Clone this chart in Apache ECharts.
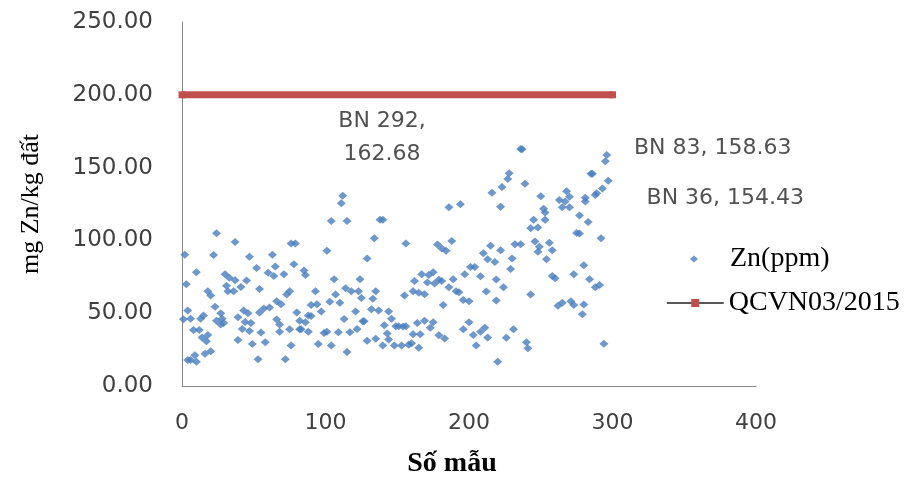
<!DOCTYPE html>
<html>
<head>
<meta charset="utf-8">
<script src="https://cdn.jsdelivr.net/npm/echarts/dist/echarts.min.js"></script>
<style>
  html, body {margin:0; padding:0; background:#fff;}
  #chart {width:907px; height:483px;}
</style>
</head>
<body>
<div id="chart"></div>
<script>
// số mẫu (sample no.) and Zn (mg/kg)
var sampleNo = [1,2,3,4,4,6,6,8,9,10,10,12,13,14,15,16,17,18,18,20,20,22,23,24,24,27,27,28,29,30,
  31,32,33,36,37,37,39,39,41,42,43,44,45,46,47,47,48,49,52,53,54,54,55,57,58,60,61,63,64,65,
  66,66,68,68,69,71,72,73,75,75,76,76,78,79,80,82,82,83,85,86,86,88,88,90,90,93,94,95,97,99,
  101,101,103,104,104,106,107,109,110,111,112,113,114,115,115,117,118,121,122,123,124,125,126,127,
  129,129,132,133,134,135,135,137,138,140,140,141,143,144,144,146,148,149,151,153,154,155,156,156,
  158,160,161,161,162,164,165,165,166,167,169,169,171,172,173,175,175,176,178,179,179,181,181,182,
  183,184,186,186,188,189,191,193,194,196,196,197,200,200,201,203,204,205,208,208,210,211,212,213,
  213,215,216,218,219,219,220,222,222,223,224,226,227,228,229,230,231,232,236,236,237,239,240,241,
  243,243,245,246,248,248,249,250,252,253,253,254,256,258,258,260,262,263,265,265,267,268,270,270,
  271,273,273,275,277,277,279,280,280,281,281,283,284,285,286,288,288,289,291,292,293,294,295,296,297];
var znPpm = [45.8,90.2,69.8,51.8,17.8,46.2,17.8,38.4,21.1,78.2,16.7,38.4,46.2,33.3,48.4,22.2,30.7,65.1,35.1,62.2,23.8,90,54.4,104.9,44.9,50,42.2,46.2,43.3,76.7,
  68.9,65.1,74.4,65.1,98.9,72.7,47.3,31.6,68,39.1,51.8,44,72.4,50,88.7,37.8,43.3,28.9,81.1,18.4,66.7,50.4,36.7,53.3,30,77.8,54,90.2,75.6,82,
  58.2,45.6,42.2,37.3,56.2,76.7,18.4,62.9,65.1,38.9,97.8,27.8,83.6,97.8,50.4,44.9,38.9,38.9,79.3,76.2,43.8,48.4,37.3,55.6,48,65.1,56.2,28.9,51.1,36.4,
  92.9,37.3,57.8,113.3,27.8,73.3,62.9,36.9,57.1,125.6,130.7,46,67.1,113.3,23.3,36.9,65.1,51.1,39.1,65.1,73.3,60.4,44.4,44.4,
  87.6,31.1,52.7,60,101.5,65.1,32.4,51.8,114.2,114.2,27.8,41.8,36,51.1,32,46.2,27.8,41.1,41,27.8,40.9,62.2,41,97.8,
  28.4,29.3,65.1,35.6,72.2,43.3,64,26.2,35.6,76.7,63.1,44.9,71.1,76.2,40,78.2,43.8,70.4,97.1,72.9,34.9,94.4,72.2,55.6,
  32.7,92.9,122.7,67.8,99.6,73.3,65.1,64.4,124.9,59.1,38.9,76.7,58.2,43.8,81.8,35.1,81.8,27.8,75.3,37.3,91.1,40,64.9,87.1,
  33.3,96.4,132.7,85.1,73.1,58.7,16.7,93.3,123.1,136.7,67.8,33.1,142.2,146.2,80.4,87.6,38.9,97.3,162.7,97.3,162.68,138.9,30,26,
  108.4,62.9,114.2,99.3,108.9,92.2,95.6,130.4,121.8,119.1,114.2,87.1,98.4,93.3,75.6,74,55.1,127.8,122.7,57.1,126.7,133.8,130,122.7,
  58.2,76.7,55.6,105.1,104.7,117.1,49.3,82.9,56,129.3,126.7,112.7,73.3,145.8,145.8,131.1,67.8,132.4,69.3,101.5,135.6,29,154.43,158.63,141];

// QCVN 03/2015 limit line
var limitX = [0, 300];
var limitY = [200, 200];

// labelled samples
var noteSample = [237, 296, 295];
var noteText = ['BN 292,\n162.68', 'BN 83, 158.63', 'BN 36, 154.43'];
var noteOffset = [[-140, -11], [106, -7], [120, 37]];

var yTicks = [0, 50, 100, 150, 200, 250];

var chart = echarts.init(document.getElementById('chart'));

var scatterData = [];
for (var i = 0; i < sampleNo.length; i++) {
    var item = {value: [sampleNo[i], znPpm[i]]};
    var k = noteSample.indexOf(sampleNo[i]);
    if (k >= 0 && (sampleNo[i] != 237 || znPpm[i] == 162.68)) {
        item.label = {
            show: true,
            position: 'inside',
            offset: noteOffset[k],
            formatter: noteText[k],
            fontFamily: 'DejaVu Sans',
            fontSize: 22,
            lineHeight: 33,
            color: '#262626',
            textBorderWidth: 0,
            textBorderColor: 'transparent',
            align: 'center'
        };
    }
    scatterData.push(item);
}

var limitData = [];
for (var j = 0; j < limitX.length; j++) limitData.push([limitX[j], limitY[j]]);

var legendText = {fontFamily: 'Liberation Serif', fontSize: 28, lineHeight: 30, color: '#000'};

var option = {
    backgroundColor: '#fff',
    animation: false,
    grid: {left: 182, right: 151, top: 22, bottom: 88},
    xAxis: {
        type: 'value',
        min: 0, max: 400, interval: 100,
        name: 'Số mẫu',
        nameLocation: 'middle',
        nameGap: 64,
        nameTextStyle: {fontFamily: 'Liberation Serif', fontWeight: 'bold', fontSize: 28, color: '#000', padding: [0, 34, 0, 0]},
        axisLine: {lineStyle: {color: '#868686', width: 1}},
        axisTick: {show: false},
        splitLine: {show: false},
        axisLabel: {fontFamily: 'DejaVu Sans', fontSize: 22, color: '#404040', margin: 26}
    },
    yAxis: {
        type: 'value',
        min: yTicks[0], max: yTicks[yTicks.length - 1], interval: 50,
        name: 'mg Zn/kg đất',
        nameLocation: 'middle',
        nameRotate: 90,
        nameGap: 138,
        nameTextStyle: {fontFamily: 'Liberation Serif', fontSize: 26, color: '#000'},
        axisLine: {show: true, lineStyle: {color: '#868686', width: 1}},
        axisTick: {show: false},
        splitLine: {show: false},
        axisLabel: {
            fontFamily: 'DejaVu Sans', fontSize: 23, color: '#404040', margin: 29,
            formatter: function (v) { return v.toFixed(2); }
        }
    },
    legend: [
        {
            data: [{name: 'Zn(ppm)', icon: 'diamond'}],
            orient: 'vertical',
            left: 685, top: 239,
            itemWidth: 8, itemHeight: 7,
            textStyle: {fontFamily: legendText.fontFamily, fontSize: legendText.fontSize, lineHeight: legendText.lineHeight, color: legendText.color, padding: [0, 0, 0, 27]}
        },
        {
            data: [{name: 'QCVN03/2015', lineStyle: {color: '#222', width: 1.5}}],
            orient: 'vertical',
            left: 661, top: 283,
            itemWidth: 57, itemHeight: 10,
            textStyle: legendText
        }
    ],
    series: [
        {
            name: 'QCVN03/2015',
            type: 'line',
            data: limitData,
            symbol: 'rect',
            symbolSize: 7,
            itemStyle: {color: '#C0504D'},
            lineStyle: {color: '#C0504D', width: 7},
            z: 2
        },
        {
            name: 'Zn(ppm)',
            type: 'scatter',
            data: scatterData,
            symbol: 'diamond',
            symbolSize: [9, 8],
            itemStyle: {color: '#4A7EBF'},
            z: 3
        }
    ]
};
chart.setOption(option);
</script>
</body>
</html>
